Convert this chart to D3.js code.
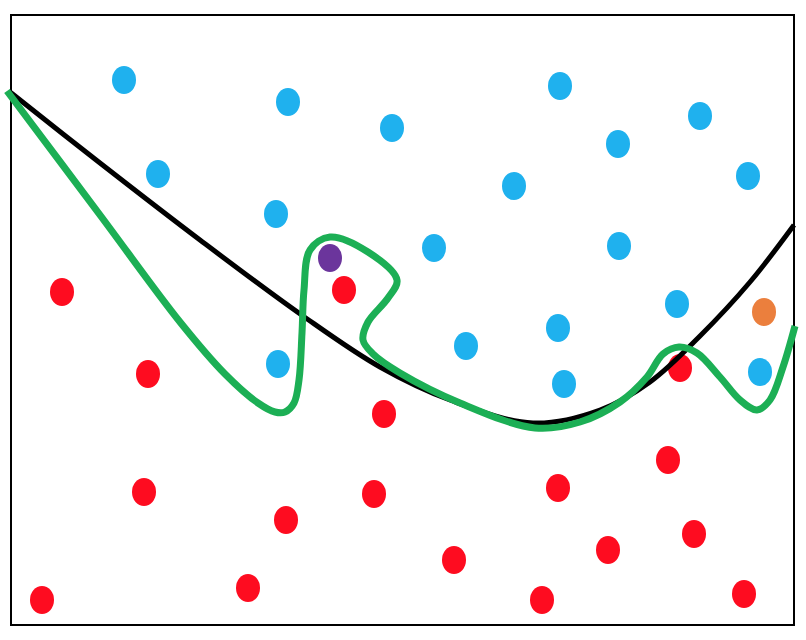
<!DOCTYPE html>
<html>
<head>
<meta charset="utf-8">
<script src="https://cdn.jsdelivr.net/npm/d3@7"></script>
<style>
  html, body { margin: 0; padding: 0; background: #fff; }
  svg { display: block; }
</style>
</head>
<body>
<div id="chart"></div>
<script>
// Plot-local data units: x to the right, y upward, frame is 783 x 610.
const bluePoints = [
  [113, 545], [277, 523], [381, 497], [549, 539], [607, 481], [689, 509],
  [147, 451], [265, 411], [503, 439], [737, 449], [423, 377], [608, 379],
  [666, 321], [547, 297], [455, 279], [267, 261], [553, 241], [749, 253]
];
const redPoints = [
  [51, 333], [333, 335], [137, 251], [373, 211], [669, 257], [657, 165],
  [133, 133], [363, 131], [547, 137], [275, 105], [683, 91], [597, 75],
  [443, 65], [237, 37], [31, 25], [531, 25], [733, 31]
];
const purplePoints = [[319, 367]];
const orangePoints = [[753, 313]];

// smooth boundary
const blackCurve = [
  [-1, 533], [89, 462], [189, 385], [292, 309], [369, 258], [439, 225],
  [522, 202], [589, 215], [639, 243], [689, 289], [739, 343], [783, 400]
];
// overfitted boundary
const greenCurve = [
  [-4, 534], [89, 410], [169, 303], [214, 251], [247, 222], [264, 213],
  [274, 213], [283, 222], [288, 245], [291, 292], [293, 335], [299, 375],
  [319, 388], [357, 373], [386, 345], [377, 327], [357, 303], [352, 285],
  [362, 271], [389, 252], [449, 222], [524, 197], [569, 203],
  [609, 223], [636, 248], [652, 271], [668, 278], [686, 272], [709, 248],
  [729, 225], [746, 215], [759, 225], [772, 258], [784, 299]
];

const W = 806, H = 640;
const frame = { left: 11, top: 15, right: 794, bottom: 625 };

const x = d3.scaleLinear().domain([0, 783]).range([frame.left, frame.right]);
const y = d3.scaleLinear().domain([0, 610]).range([frame.bottom, frame.top]);

const svg = d3.select('#chart').append('svg')
  .attr('width', W).attr('height', H);

svg.append('rect')
  .attr('x', frame.left).attr('y', frame.top)
  .attr('width', frame.right - frame.left)
  .attr('height', frame.bottom - frame.top)
  .attr('fill', 'none').attr('stroke', '#000').attr('stroke-width', 2);

function dots(data, colour) {
  svg.append('g').selectAll('ellipse')
    .data(data)
    .enter().append('ellipse')
      .attr('cx', d => x(d[0]))
      .attr('cy', d => y(d[1]))
      .attr('rx', 12).attr('ry', 14)
      .attr('fill', colour);
}

dots(bluePoints, '#1fb1ee');
dots(redPoints, '#fe0c20');
dots(purplePoints, '#6b359c');
dots(orangePoints, '#eb7f3d');

const line = d3.line()
  .x(d => x(d[0]))
  .y(d => y(d[1]))
  .curve(d3.curveCatmullRom.alpha(0.5));

svg.append('path')
  .attr('d', line(blackCurve))
  .attr('fill', 'none').attr('stroke', '#000').attr('stroke-width', 5);

svg.append('path')
  .attr('d', line(greenCurve))
  .attr('fill', 'none').attr('stroke', '#1caf55').attr('stroke-width', 7)
  .attr('stroke-linejoin', 'round');
</script>
</body>
</html>
